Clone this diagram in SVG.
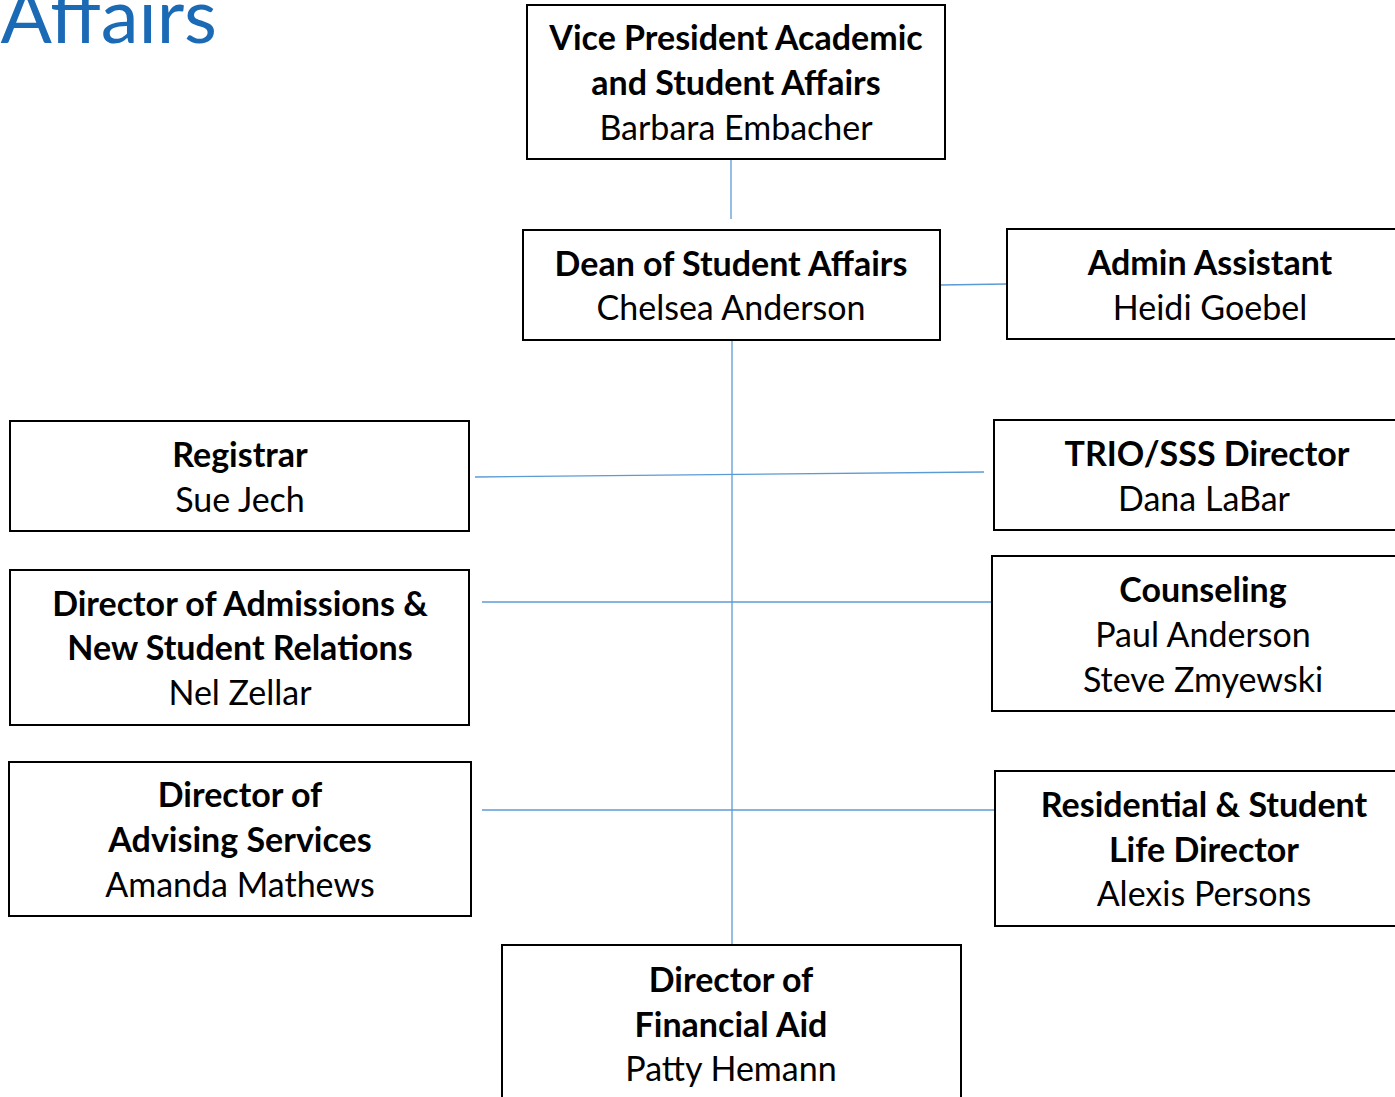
<svg xmlns="http://www.w3.org/2000/svg" width="1395" height="1097" viewBox="0 0 1395 1097">
<style>
.box{fill:#fff;stroke:#000;stroke-width:2}
.t{font-family:Lato,"Open Sans",sans-serif;font-size:34px;fill:#000;text-anchor:middle}
.b{font-weight:bold}
.c{stroke:#5B9BD5;stroke-width:1.3;fill:none}
.title{font-family:Lato,"Open Sans",sans-serif;font-size:76px;fill:#1B6AB6;text-anchor:end}
</style>
<rect width="1395" height="1097" fill="#fff"/>
<text class="title" x="217" y="43">Affairs</text>
<g id="connectors">
<line class="c" x1="731" y1="160" x2="731" y2="219"/>
<line class="c" x1="940" y1="285" x2="1007" y2="284"/>
<line class="c" x1="732" y1="341" x2="732" y2="945"/>
<line class="c" x1="475" y1="477" x2="984" y2="472"/>
<line class="c" x1="482" y1="602" x2="992" y2="602"/>
<line class="c" x1="482" y1="810" x2="995" y2="810"/>
</g>
<g id="vp">
<rect class="box" x="527" y="5" width="418" height="154"/>
<text class="t b" x="736" y="50">Vice President Academic</text>
<text class="t b" x="736" y="95">and Student Affairs</text>
<text class="t" x="736" y="140">Barbara Embacher</text>
</g>
<g id="dean">
<rect class="box" x="523" y="230" width="417" height="110"/>
<text class="t b" x="731" y="276">Dean of Student Affairs</text>
<text class="t" x="731" y="320">Chelsea Anderson</text>
</g>
<g id="admin">
<rect class="box" x="1007" y="229" width="400" height="110"/>
<text class="t b" x="1210" y="275">Admin Assistant</text>
<text class="t" x="1210" y="320">Heidi Goebel</text>
</g>
<g id="registrar">
<rect class="box" x="10" y="421" width="459" height="110"/>
<text class="t b" x="240" y="467">Registrar</text>
<text class="t" x="240" y="512">Sue Jech</text>
</g>
<g id="trio">
<rect class="box" x="994" y="420" width="413" height="110"/>
<text class="t b" x="1207" y="466">TRIO/SSS Director</text>
<text class="t" x="1204" y="511">Dana LaBar</text>
</g>
<g id="admissions">
<rect class="box" x="10" y="570" width="459" height="155"/>
<text class="t b" x="240" y="616">Director of Admissions &amp;</text>
<text class="t b" x="240" y="660">New Student Relations</text>
<text class="t" x="240" y="705">Nel Zellar</text>
</g>
<g id="counseling">
<rect class="box" x="992" y="556" width="415" height="155"/>
<text class="t b" x="1203" y="602">Counseling</text>
<text class="t" x="1203" y="647">Paul Anderson</text>
<text class="t" x="1203" y="692">Steve Zmyewski</text>
</g>
<g id="advising">
<rect class="box" x="9" y="762" width="462" height="154"/>
<text class="t b" x="240" y="807">Director of</text>
<text class="t b" x="240" y="852">Advising Services</text>
<text class="t" x="240" y="897">Amanda Mathews</text>
</g>
<g id="residential">
<rect class="box" x="995" y="771" width="412" height="155"/>
<text class="t b" x="1204" y="817">Residential &amp; Student</text>
<text class="t b" x="1204" y="862">Life Director</text>
<text class="t" x="1204" y="906">Alexis Persons</text>
</g>
<g id="finaid">
<rect class="box" x="502" y="945" width="459" height="170"/>
<text class="t b" x="731" y="992">Director of</text>
<text class="t b" x="731" y="1037">Financial Aid</text>
<text class="t" x="731" y="1081">Patty Hemann</text>
</g>
</svg>
